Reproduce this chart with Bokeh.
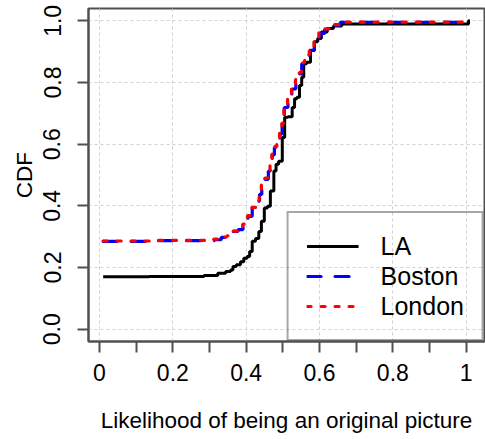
from bokeh.plotting import figure
from bokeh.models import FixedTicker, Range1d, Legend, LegendItem
from bokeh.embed import file_html
from bokeh.resources import INLINE

# ---- data ----
la_x = [0.01, 0.26, 0.31, 0.335, 0.353, 0.362, 0.366, 0.38, 0.389, 0.398, 0.407, 0.412,
        0.421, 0.43, 0.439, 0.444, 0.455, 0.461, 0.471, 0.48, 0.483, 0.494, 0.503, 0.507,
        0.521, 0.53, 0.534, 0.543, 0.548, 0.555, 0.559, 0.571, 0.58, 0.592, 0.598, 0.612,
        0.63, 0.646, 0.675, 1.003, 1.01]
la_y = [0.17, 0.171, 0.174, 0.181, 0.187, 0.192, 0.203, 0.209, 0.219, 0.23, 0.236, 0.252,
        0.285, 0.294, 0.317, 0.35, 0.393, 0.399, 0.448, 0.513, 0.535, 0.545, 0.622, 0.687,
        0.689, 0.719, 0.747, 0.752, 0.79, 0.817, 0.861, 0.866, 0.904, 0.932, 0.943, 0.964,
        0.975, 0.983, 0.99, 0.99, 1.0]

boston_x = [0.01, 0.303, 0.325, 0.339, 0.357, 0.371, 0.385, 0.398, 0.412, 0.421, 0.434,
            0.439, 0.446, 0.457, 0.464, 0.468, 0.474, 0.48, 0.489, 0.495, 0.501, 0.507,
            0.521, 0.528, 0.543, 0.548, 0.555, 0.566, 0.58, 0.592, 0.607, 0.621, 0.635,
            0.648, 0.665, 1.003, 1.01]
boston_y = [0.285, 0.287, 0.29, 0.298, 0.301, 0.317, 0.323, 0.339, 0.366, 0.393, 0.415,
            0.437, 0.47, 0.486, 0.513, 0.546, 0.565, 0.589, 0.602, 0.633, 0.665, 0.719,
            0.747, 0.779, 0.807, 0.828, 0.861, 0.888, 0.904, 0.937, 0.959, 0.972, 0.975,
            0.986, 0.995, 0.995, 1.0]

london_x = [0.01, 0.30, 0.322, 0.34, 0.355, 0.37, 0.384, 0.397, 0.41, 0.42, 0.433, 0.438,
            0.445, 0.456, 0.463, 0.467, 0.473, 0.479, 0.488, 0.494, 0.5, 0.506, 0.52, 0.527,
            0.542, 0.547, 0.554, 0.565, 0.579, 0.591, 0.606, 0.62, 0.634, 0.647, 0.662,
            1.003, 1.01]
london_y = [0.286, 0.288, 0.292, 0.299, 0.303, 0.318, 0.325, 0.341, 0.368, 0.395, 0.417,
            0.44, 0.472, 0.49, 0.516, 0.55, 0.568, 0.592, 0.605, 0.637, 0.668, 0.722, 0.75,
            0.783, 0.81, 0.832, 0.864, 0.89, 0.908, 0.94, 0.962, 0.974, 0.978, 0.988,
            0.996, 0.996, 1.0]

x_ticks = [0, 0.2, 0.4, 0.6, 0.8, 1.0]
x_tick_labels = ["0", "0.2", "0.4", "0.6", "0.8", "1"]
x_minor_ticks = [0.1, 0.3, 0.5, 0.7, 0.9]
y_ticks = [0, 0.2, 0.4, 0.6, 0.8, 1.0]
y_tick_labels = ["0.0", "0.2", "0.4", "0.6", "0.8", "1.0"]

FONT = "Liberation Sans"
FRAME = "#505050"

p = figure(width=485, height=439, output_backend="svg", toolbar_location=None,
           x_range=Range1d(-0.03, 1.05), y_range=Range1d(-0.04, 1.04),
           min_border_left=88, min_border_right=1, min_border_top=8, min_border_bottom=98)
p.background_fill_color = "white"
p.border_fill_color = "white"
p.outline_line_color = FRAME
p.outline_line_width = 2

# grid
p.xgrid.ticker = FixedTicker(ticks=x_ticks)
p.ygrid.ticker = FixedTicker(ticks=y_ticks)
for g in (p.xgrid, p.ygrid):
    g.grid_line_color = "#d0d0d0"
    g.grid_line_dash = "3 3"
    g.grid_line_width = 1

# x axis
xa = p.xaxis[0]
xa.ticker = FixedTicker(ticks=x_ticks, minor_ticks=x_minor_ticks)
xa.major_label_overrides = dict(zip(x_ticks, x_tick_labels))
xa.axis_label = "Likelihood of being an original picture"
# y axis
ya = p.yaxis[0]
ya.ticker = FixedTicker(ticks=y_ticks)
ya.major_label_overrides = dict(zip(y_ticks, y_tick_labels))
ya.major_label_orientation = "vertical"
ya.axis_label = "CDF"

for ax in (xa, ya):
    ax.axis_line_color = FRAME
    ax.axis_line_width = 2
    ax.major_tick_line_color = FRAME
    ax.major_tick_line_width = 2
    ax.minor_tick_line_color = FRAME
    ax.minor_tick_line_width = 2
    ax.major_tick_in = 0
    ax.major_tick_out = 11
    ax.minor_tick_in = 0
    ax.minor_tick_out = 11
    ax.major_label_text_font = FONT
    ax.major_label_text_font_size = "23px"
    ax.major_label_text_color = "black"
    ax.axis_label_text_font = FONT
    ax.axis_label_text_font_size = "22.5px"
    ax.axis_label_text_font_style = "normal"
    ax.axis_label_text_color = "black"
ya.minor_tick_out = 0
xa.major_label_standoff = 11
xa.axis_label_standoff = 24
ya.major_label_standoff = 17
ya.axis_label_standoff = 4

r_la = p.step(la_x, la_y, mode="center", line_color="black", line_width=3)
r_bo = p.step(boston_x, boston_y, mode="center", line_color="blue", line_width=3.2,
              line_dash="14 14", line_cap="round")
r_lo = p.step(london_x, london_y, mode="center", line_color="red", line_width=3.2,
              line_dash="4 10", line_cap="round")

legend = Legend(items=[LegendItem(label="LA", renderers=[r_la]),
                       LegendItem(label="Boston", renderers=[r_bo]),
                       LegendItem(label="London", renderers=[r_lo])],
                location="bottom_right")
legend.margin = 0
legend.padding = 18
legend.spacing = 0
legend.glyph_height = 30
legend.glyph_width = 52
legend.label_height = 30
legend.label_standoff = 22
legend.label_text_font = FONT
legend.label_text_font_size = "25px"
legend.label_text_color = "black"
legend.border_line_color = FRAME
legend.border_line_width = 2
legend.background_fill_alpha = 0
p.add_layout(legend)

open("out.html", "w").write(file_html(p, INLINE))
